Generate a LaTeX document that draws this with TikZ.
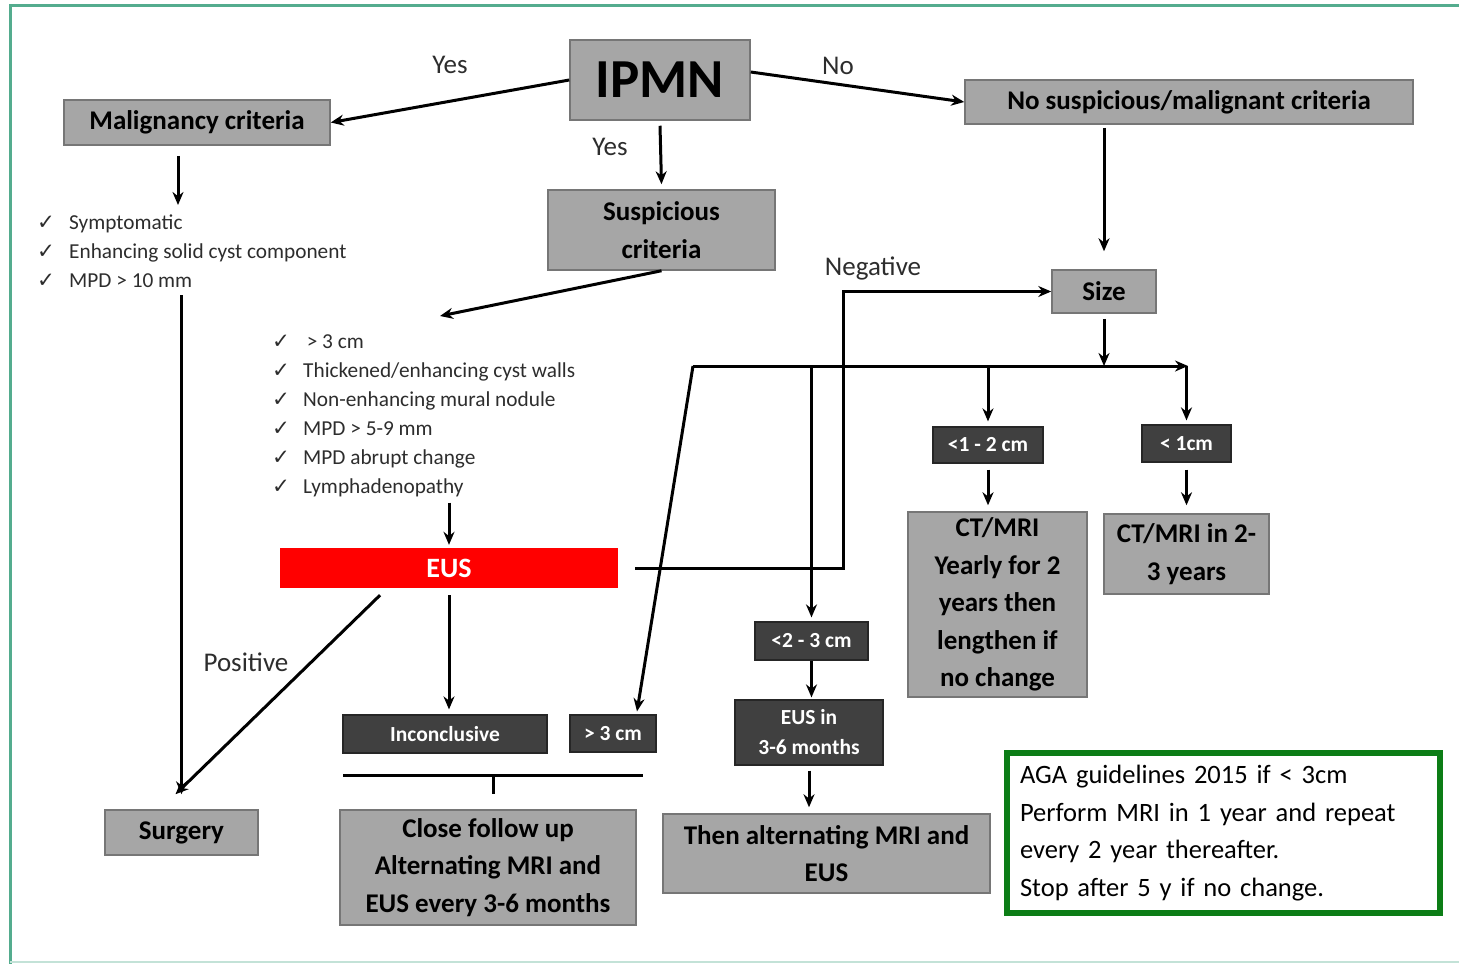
\documentclass[tikz,border=0pt]{standalone}
\usepackage{fontspec}
\setmainfont{Carlito}
\newfontfamily\symfont{DejaVu Sans}
\usetikzlibrary{arrows.meta}
\definecolor{boxgray}{RGB}{166,166,166}
\definecolor{boxedge}{RGB}{118,118,118}
\definecolor{darkfill}{RGB}{64,64,64}
\definecolor{darkedge}{RGB}{38,38,38}
\definecolor{framegreen}{RGB}{84,172,142}
\definecolor{agagreen}{RGB}{12,125,22}
\definecolor{txtgray}{RGB}{45,45,45}
\tikzset{>={Stealth[length=13pt,width=11pt]},
  lightbox/.style={draw=boxedge, fill=boxgray, line width=1.5pt, inner sep=0pt,
    align=center, font=\bfseries\fontsize{27}{37.5}\selectfont},
  darkbox/.style={draw=darkedge, fill=darkfill, line width=1.2pt, inner sep=0pt,
    align=center, text=white, font=\bfseries\fontsize{21.5}{30}\selectfont},
  redbox/.style={fill=red, inner sep=0pt, text=white,
    font=\bfseries\fontsize{28}{30}\selectfont},
  guidebox/.style={draw=agagreen, fill=white, line width=6pt, inner xsep=13pt,
    inner ysep=0pt, align=left, text width=407pt, font=\fontsize{26.5}{37.5}\selectfont},
  checkitem/.style={anchor=base west, inner sep=0pt, text=txtgray,
    font=\fontsize{21.3}{24}\selectfont},
  lbl/.style={inner sep=0pt, text=txtgray, font=\fontsize{27}{30}\selectfont},
  conn/.style={->, line width=3pt}
}

\begin{document}
\begin{tikzpicture}[x=1pt, y=-1pt]
   \useasboundingbox (0,0) rectangle (1459,964);
   \draw[framegreen, line width=3pt] (1459,5) -- (10,5) -- (10,964);
   \draw[framegreen!35, line width=2pt] (10,962) -- (1459,962);

   % top row
   \node[lightbox, minimum width=180, minimum height=80,
     font=\bfseries\fontsize{55}{60}\selectfont] (ipmn) at (660,80) {IPMN};
   \node[lightbox, minimum width=266, minimum height=45] (malig) at (197,122.5) {Malignancy criteria};
   \node[lightbox, minimum width=448, minimum height=44] (nosusp) at (1189,102) {No suspicious/malignant criteria};
   \node[lightbox, minimum width=227, minimum height=80] (susp) at (661.5,230) {Suspicious\\criteria};
   \node[lightbox, minimum width=104, minimum height=43] (size) at (1104,291.5) {Size};

   % check lists
   \foreach \txt [count=\i] in {Symptomatic, Enhancing solid cyst component, MPD > 10 mm}
     \node[checkitem] (mlist-\i) at (37,200+29*\i) {\makebox[32pt][l]{\symfont ✓}\txt};
   \foreach \txt [count=\i] in {\,> 3 cm, Thickened/enhancing cyst walls, Non-enhancing mural nodule,
       MPD > 5-9 mm, MPD abrupt change, Lymphadenopathy}
     \node[checkitem] (slist-\i) at (272,319+29*\i) {\makebox[31pt][l]{\symfont ✓}\txt};

   % EUS branch
   \node[redbox, minimum width=338, minimum height=40] (eus) at (449,568) {EUS};
   \node[darkbox, minimum width=204, minimum height=38] (incon) at (445,734) {Inconclusive};
   \node[darkbox, minimum width=86, minimum height=37] (gt3) at (613,733.5) {> 3 cm};
   \node[lightbox, minimum width=296, minimum height=115] (close) at (488,867.5)
     {Close follow up\\Alternating MRI and\\EUS every 3-6 months};
   \node[lightbox, minimum width=153, minimum height=45] (surgery) at (181.5,832.5) {Surgery};

   % size branch
   \node[darkbox, minimum width=110, minimum height=36] (lt12) at (988,445) {<1 - 2 cm};
   \node[lightbox, minimum width=179, minimum height=185] (ctyear) at (997.5,604.5)
     {CT/MRI\\Yearly for 2\\years then\\lengthen if\\no change};
   \node[darkbox, minimum width=89, minimum height=37] (lt1) at (1186.5,443.5) {< 1cm};
   \node[lightbox, minimum width=165, minimum height=80] (ct23) at (1186.5,554) {CT/MRI in 2-\\3 years};
   \node[darkbox, minimum width=113, minimum height=38] (lt23) at (811.5,641) {<2 - 3 cm};
   \node[darkbox, minimum width=148, minimum height=65] (eus36) at (809,732.5) {EUS in\\3-6 months};
   \node[lightbox, minimum width=327, minimum height=79] (alt) at (826.5,853.5) {Then alternating MRI and\\EUS};
   \node[guidebox, minimum height=160] (aga) at (1223.5,833)
     {AGA guidelines 2015 if < 3cm\\Perform MRI in 1 year and repeat\\every 2 year thereafter.\\Stop after 5 y if no change.};

   % labels
   \node[lbl] (yes1) at (450,65) {Yes};
   \node[lbl] (no1) at (838,66) {No};
   \node[lbl] (yes2) at (610,147) {Yes};
   \node[lbl] (neg) at (873,268) {Negative};
   \node[lbl] (pos) at (246,662) {Positive};

   \coordinate (mtop) at (178,205);
   \coordinate (stop) at (440,316);
   \coordinate (negx) at (843,0);
   \coordinate (busL) at (693,366);
   \coordinate (busR) at (1188,366);
   \coordinate (brk) at (493,775);

   % connectors
   \draw[conn] (ipmn.west) -- (malig.east);
   \draw[conn] ([yshift=8pt]ipmn.east) -- (nosusp.west);
   \draw[conn] ([yshift=-5pt]ipmn.south) -- ([yshift=5pt]susp.north);
   \draw[conn] (susp.south) -- (stop);
   \draw[conn] (mtop |- malig.south) ++(0,10) -- (mtop);
   \draw[conn] ([yshift=-8pt]mlist-3.south -| surgery.north) -- ([yshift=15pt]surgery.north);
   \draw[conn] ([yshift=-6pt]slist-6.south -| eus.north) -- ([yshift=3pt]eus.north);
   \draw[conn] ([xshift=-69pt,yshift=-7pt]eus.south) -- ([xshift=-6pt,yshift=15pt]surgery.north);
   \draw[conn] ([yshift=-7pt]eus.south) -- ([yshift=5pt]eus.south |- incon.north);
   \draw[conn] ([xshift=17pt]eus.east) -| (negx |- size.west) -- (size.west);
   \draw[conn] (size.north |- nosusp.south) ++(0,3) -- ([yshift=18pt]size.north);
   \draw[conn] ([yshift=-5pt]size.south) -- (size.south |- busL);
   \draw[conn] (busL) -- (busR);
   \draw[conn] (lt1.north |- busR) -- ([yshift=4pt]lt1.north);
   \draw[conn] (lt12.north |- busL) -- ([yshift=5pt]lt12.north);
   \draw[conn] (lt23.north |- busL) -- ([yshift=4pt]lt23.north);
   \draw[conn] (busL) -- ([xshift=24pt,yshift=3pt]gt3.north);
   \draw[conn] ([yshift=-6pt]lt12.south) -- ([yshift=6pt]lt12.south |- ctyear.north);
   \draw[conn] ([yshift=-7pt]lt1.south) -- ([yshift=8pt]ct23.north);
   \draw[conn] (lt23.south) -- ([yshift=2pt]lt23.south |- eus36.north);
   \draw[conn] ([yshift=-5pt]eus36.south) -- ([yshift=6pt]eus36.south |- alt.north);
   \draw[line width=3pt] ([xshift=-150pt]brk) -- ([xshift=150pt]brk);
   \draw[line width=3pt] (brk) -- ([yshift=15pt]brk |- close.north);

\end{tikzpicture}
\end{document}
